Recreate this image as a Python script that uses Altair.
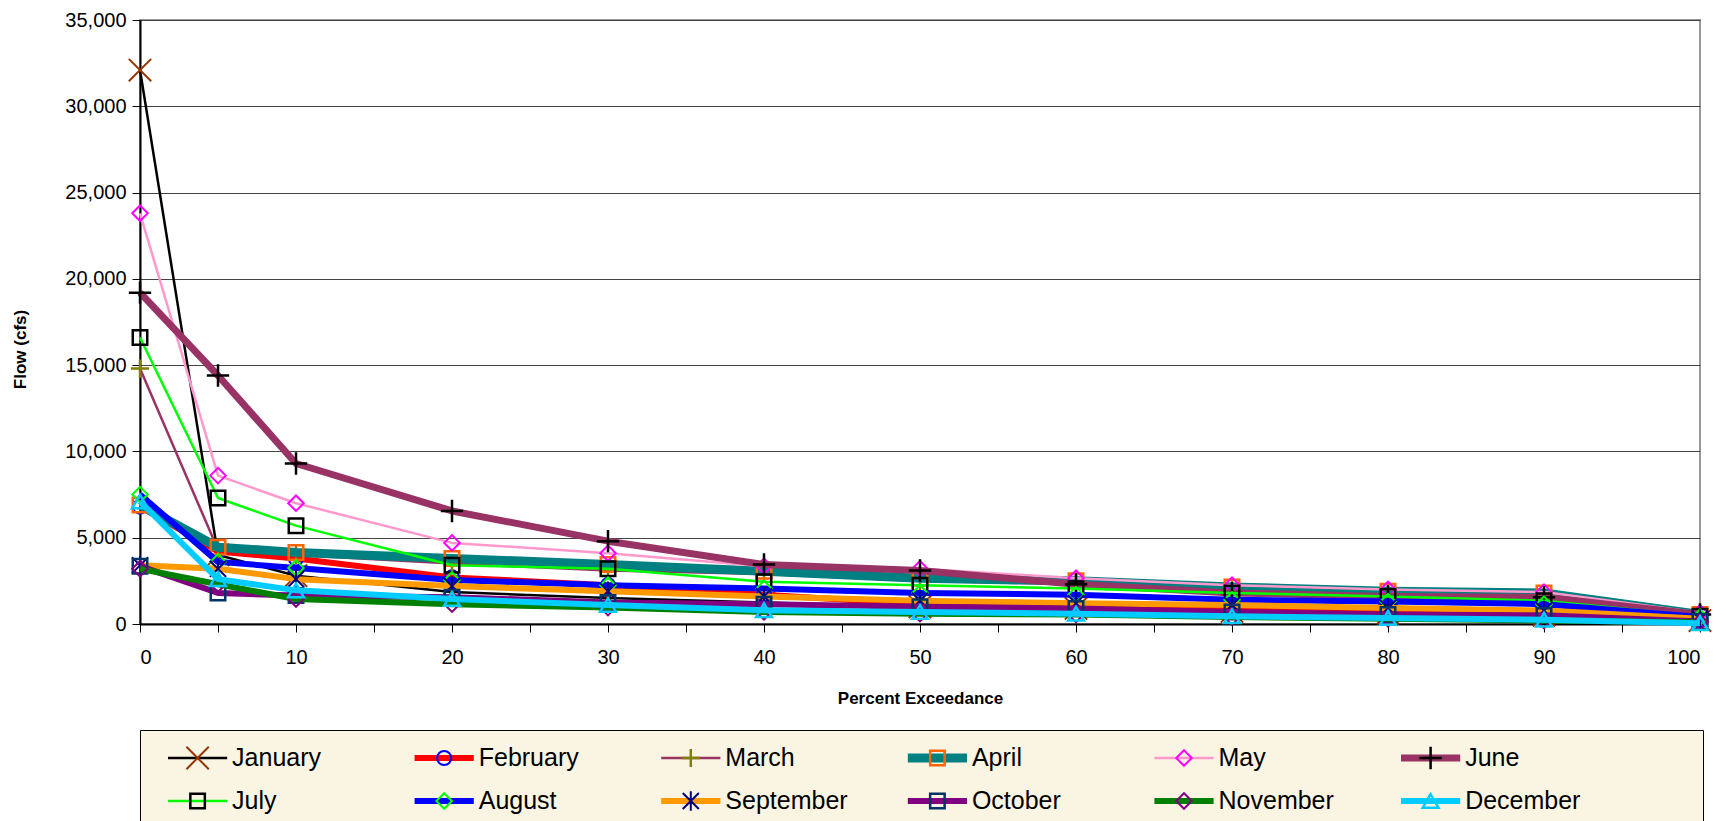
import altair as alt
import pandas as pd

pct = [0, 5, 10, 20, 30, 40, 50, 60, 70, 80, 90, 100]
months = ["January", "February", "March", "April", "May", "June",
          "July", "August", "September", "October", "November", "December"]

january = [32100, 4000, 2800, 1850, 1500, 1250, 1000, 900, 730, 630, 500, 200]
february = [6800, 4200, 3800, 2700, 2250, 1700, 1150, 1050, 850, 750, 600, 250]
march = [14800, 4300, 4000, 3500, 3100, 2900, 2500, 2300, 1950, 1700, 1500, 500]
april = [6900, 4450, 4150, 3800, 3450, 3050, 2650, 2500, 2150, 1900, 1800, 550]
may = [23800, 8600, 7000, 4700, 4100, 3350, 3200, 2650, 2250, 2000, 1850, 650]
june = [19200, 14400, 9300, 6550, 4800, 3450, 3100, 2300, 1800, 1600, 1550, 550]
july = [16600, 7300, 5700, 3400, 3200, 2450, 2250, 2050, 1800, 1600, 1350, 450]
august = [7500, 3600, 3250, 2550, 2250, 2050, 1800, 1700, 1400, 1300, 1150, 400]
september = [3400, 3200, 2600, 2200, 1900, 1600, 1350, 1200, 1100, 920, 780, 300]
october = [3350, 1800, 1650, 1550, 1250, 1150, 1000, 900, 700, 550, 500, 150]
november = [3200, 2300, 1450, 1150, 950, 700, 600, 550, 400, 300, 200, 100]
december = [7100, 2600, 1950, 1450, 1100, 800, 700, 600, 450, 350, 250, 50]

series = [january, february, march, april, may, june,
          july, august, september, october, november, december]

# styles
line_colors = ["#000000", "#FF0000", "#993366", "#008080", "#FF99CC", "#993366",
               "#00FF00", "#0000FF", "#FF9900", "#800080", "#008000", "#00CCFF"]
line_widths = [2.5, 6, 2.5, 9, 2.5, 7, 2.5, 6, 6, 6, 6, 6]
X_SHAPE = "M-1,-1L1,1M-1,1L1,-1"
PLUS_SHAPE = "M-1,0L1,0M0,-1L0,1"
STAR_SHAPE = "M-1,-1L1,1M-1,1L1,-1M0,-1.2L0,1.2"
marker_shapes = [X_SHAPE, "circle", PLUS_SHAPE, "square", "diamond", PLUS_SHAPE,
                 "square", "diamond", STAR_SHAPE, "square", "diamond", "triangle-up"]
marker_colors = ["#993300", "#0000FF", "#808000", "#FF6600", "#FF00FF", "#000000",
                 "#000000", "#00FF00", "#000080", "#003366", "#800080", "#00CCFF"]
marker_sizes = [500, 200, 330, 210, 240, 500, 210, 240, 260, 210, 240, 250]
marker_strokes = [2, 2, 2.5, 2.5, 2, 2.5, 2.5, 2, 2, 2.5, 2, 2.5]

FONT = "Liberation Sans"

rows = []
for m, vals in zip(months, series):
    for p, v in zip(pct, vals):
        rows.append({"month": m, "pct": p, "flow": v})
df = pd.DataFrame(rows)

X = alt.X("pct:Q", scale=alt.Scale(domain=[0, 100], nice=False, zero=False),
          axis=alt.Axis(values=list(range(0, 101, 5)),
                        labelExpr="datum.value % 10 == 0 ? datum.label : ''",
                        title="Percent Exceedance", grid=False,
                        domainColor="#000000", domainWidth=2,
                        tickColor="#000000", tickSize=8, tickWidth=1,
                        labelFont=FONT, labelFontSize=20, labelColor="#000000",
                        labelPadding=15,
                        titleFont=FONT, titleFontSize=17, titleFontWeight="bold",
                        titleColor="#000000", titleY=74, titleBaseline="middle"))
Y = alt.Y("flow:Q", scale=alt.Scale(domain=[0, 35000], nice=False),
          axis=alt.Axis(values=list(range(0, 35001, 5000)), format=",d",
                        title="Flow (cfs)", grid=True, gridColor="#444444",
                        gridWidth=1, domainColor="#000000", domainWidth=2,
                        tickColor="#000000", tickSize=8, tickWidth=1,
                        labelFont=FONT, labelFontSize=20, labelColor="#000000",
                        labelPadding=6,
                        titleFont=FONT, titleFontSize=17, titleFontWeight="bold",
                        titleColor="#000000", titleAngle=270, titleX=-120,
                        titleY=329, titleAlign="center", titleBaseline="middle"))

layers = []
for i, m in enumerate(months):
    d = df[df.month == m]
    layers.append(alt.Chart(d).mark_line(color=line_colors[i], strokeWidth=line_widths[i],
                                         strokeJoin="round").encode(x=X, y=Y))
    layers.append(alt.Chart(d).mark_point(shape=marker_shapes[i], color=marker_colors[i],
                                          filled=False, size=marker_sizes[i],
                                          strokeWidth=marker_strokes[i], opacity=1).encode(x=X, y=Y))

main = alt.layer(*layers).properties(
    width=1560, height=604,
    view=alt.ViewBackground(stroke="#999999", strokeWidth=2, fill="white"))

# legend built from the same style lists
leg_rows = []
for i, m in enumerate(months):
    col = i % 6
    r = i // 6
    leg_rows.append({"month": m, "x0": col, "x1": col + 0.24, "xm": col + 0.12,
                     "xt": col + 0.26, "row": r, "lc": line_colors[i],
                     "lw": line_widths[i], "shape": marker_shapes[i],
                     "mc": marker_colors[i], "ms": marker_sizes[i],
                     "msw": marker_strokes[i]})
ldf = pd.DataFrame(leg_rows)
LX = alt.Scale(domain=[-0.1135, 6.2246], nice=False, zero=False)
LY = alt.Scale(domain=[-0.651, 1.488], nice=False, zero=False, reverse=True)

base = alt.Chart(ldf)
leg_lines = base.mark_rule().encode(
    x=alt.X("x0:Q", scale=LX, axis=None), x2="x1:Q",
    y=alt.Y("row:Q", scale=LY, axis=None),
    color=alt.Color("lc:N", scale=None, legend=None),
    strokeWidth=alt.StrokeWidth("lw:Q", scale=None, legend=None))
leg_pts = base.mark_point(filled=False, opacity=1).encode(
    x=alt.X("xm:Q", scale=LX, axis=None),
    y=alt.Y("row:Q", scale=LY, axis=None),
    shape=alt.Shape("shape:N", scale=None, legend=None),
    color=alt.Color("mc:N", scale=None, legend=None),
    size=alt.Size("ms:Q", scale=None, legend=None),
    strokeWidth=alt.StrokeWidth("msw:Q", scale=None, legend=None))
leg_txt = base.mark_text(align="left", baseline="middle", font=FONT, fontSize=25,
                         color="#000000").encode(
    x=alt.X("xt:Q", scale=LX, axis=None),
    y=alt.Y("row:Q", scale=LY, axis=None),
    text="month:N")

legend = alt.layer(leg_lines, leg_pts, leg_txt).properties(
    width=1563, height=92,
    view=alt.ViewBackground(stroke="#000000", strokeWidth=1, fill="#FAF5E2"))

chart = alt.vconcat(main, legend, spacing=22).properties(
    padding={"left": 2, "top": 1, "right": 5, "bottom": 0},
    background="white"
).resolve_scale(x="independent", y="independent", color="independent",
                shape="independent", size="independent", strokeWidth="independent")

chart.save("out.html", embed_options={"renderer": "svg", "actions": False})
